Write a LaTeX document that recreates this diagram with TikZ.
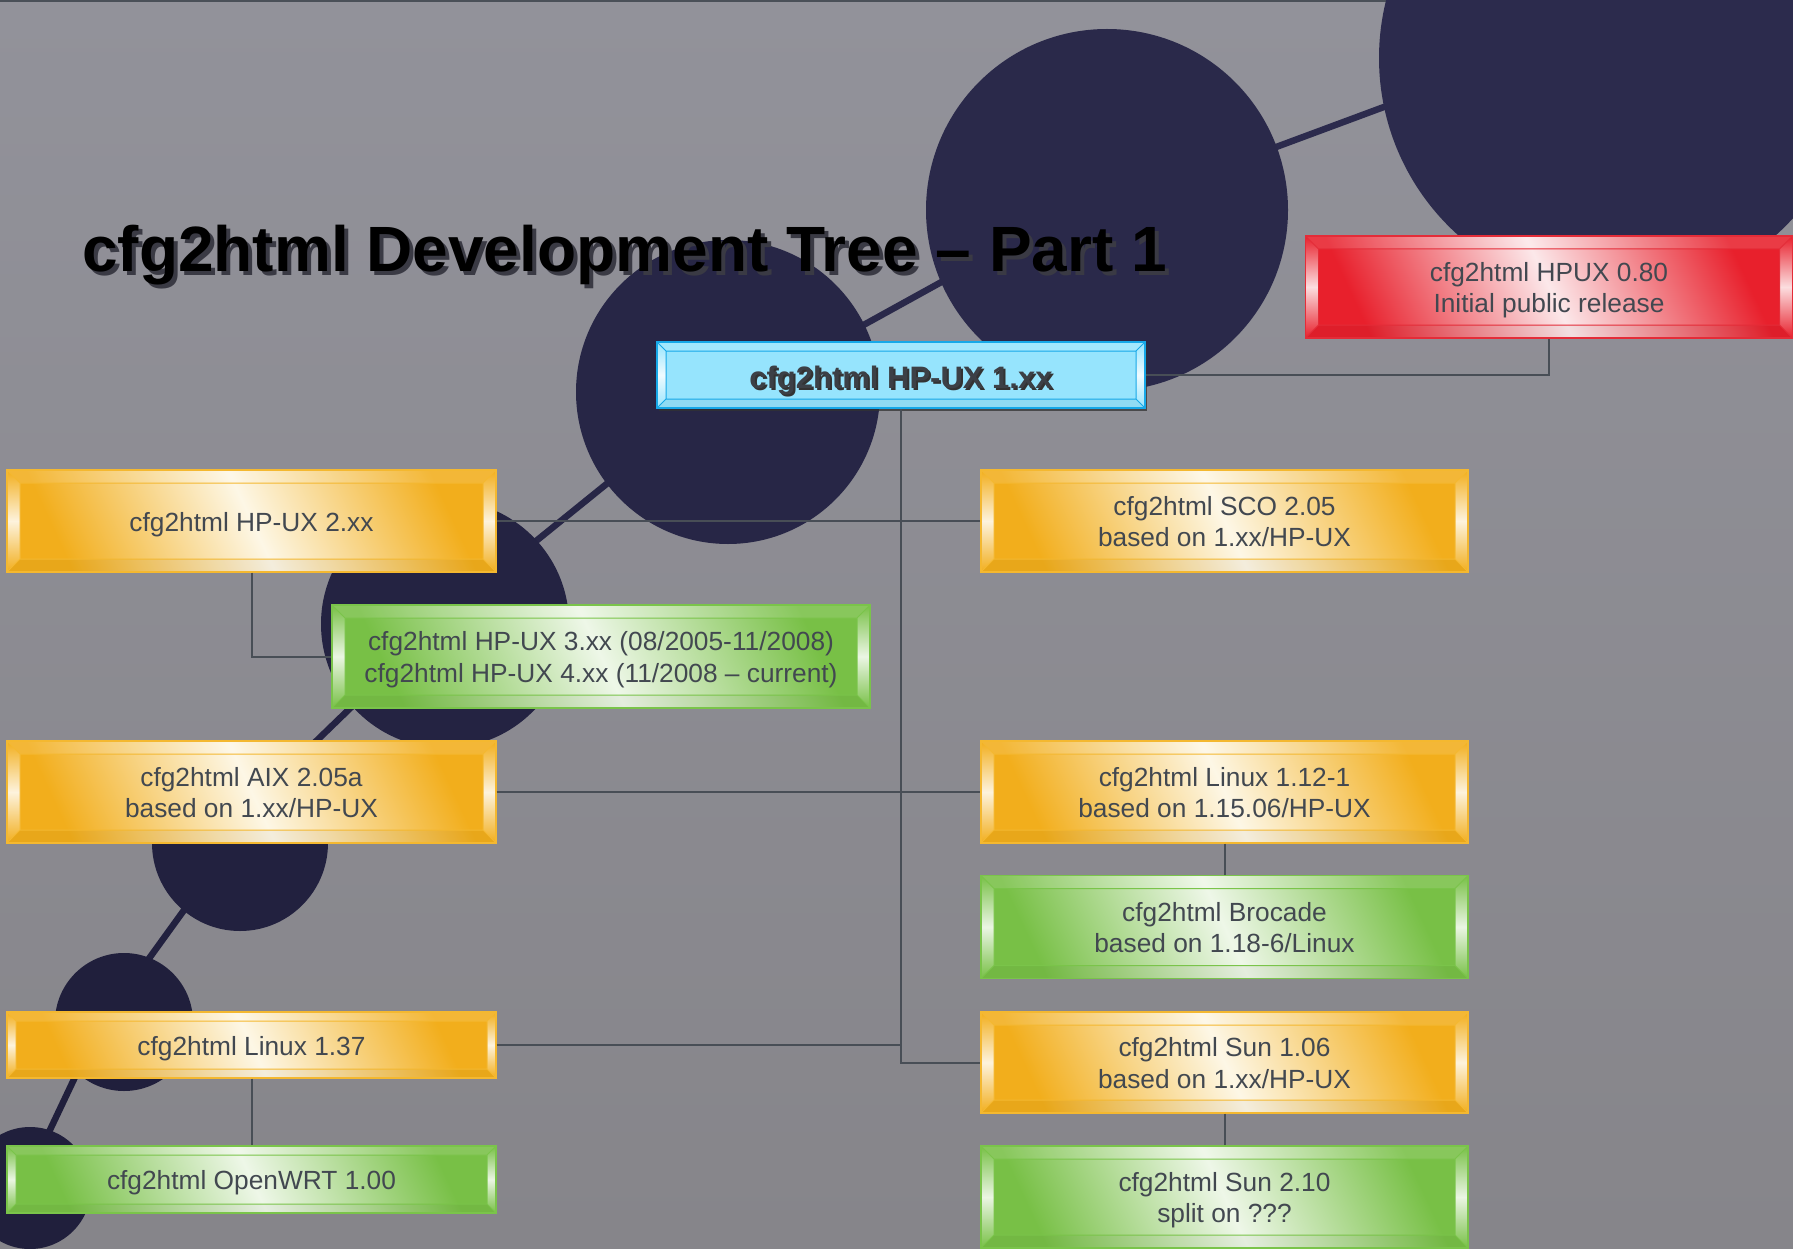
\documentclass[tikz,border=0pt]{standalone}
\usepackage{fontspec}
\newfontfamily\arial{Liberation Sans}
\usetikzlibrary{shadows}
\definecolor{bgT}{RGB}{146,146,154}
\definecolor{bgB}{RGB}{134,133,138}
\definecolor{topline}{RGB}{74,80,88}
\definecolor{navyA}{RGB}{44,43,77}
\definecolor{navyB}{RGB}{42,41,74}
\definecolor{navyC}{RGB}{39,38,70}
\definecolor{navyD}{RGB}{36,35,66}
\definecolor{navyE}{RGB}{34,33,63}
\definecolor{navyF}{RGB}{32,31,60}
\definecolor{oE}{RGB}{242,174,28}
\definecolor{oL}{RGB}{253,247,230}
\definecolor{oB}{RGB}{244,184,48}
\definecolor{gE}{RGB}{120,192,70}
\definecolor{gL}{RGB}{238,247,232}
\definecolor{gB}{RGB}{122,196,74}
\definecolor{rE}{RGB}{232,32,44}
\definecolor{rL}{RGB}{252,232,234}
\definecolor{rB}{RGB}{228,44,56}
\definecolor{bF}{RGB}{150,228,253}
\definecolor{bB}{RGB}{22,168,232}
\definecolor{txt}{RGB}{66,72,80}
\definecolor{conncol}{RGB}{72,78,86}
\definecolor{tshadow}{RGB}{58,58,68}
\newcommand{\st}{\rule{0pt}{27pt}}
\newcommand{\sd}{\rule[-7pt]{0pt}{0pt}}
\newcommand{\shtext}[3]{\rlap{\kern#1\raisebox{-#1}{\textcolor{#2}{#3}}}#3}
\tikzset{
  bevel/.style n args={3}{path picture={
    \coordinate (q1) at (path picture bounding box.north west);
    \coordinate (q2) at (path picture bounding box.north east);
    \coordinate (q3) at (path picture bounding box.south east);
    \coordinate (q4) at (path picture bounding box.south west);
    \coordinate (p1) at ([shift={(#1,-#1)}]q1);
    \coordinate (p2) at ([shift={(-#1,-#1)}]q2);
    \coordinate (p3) at ([shift={(-#1,#1)}]q3);
    \coordinate (p4) at ([shift={(#1,#1)}]q4);
    \shade[top color=#2, bottom color=#2, middle color=white!85!#2] (q1) -- (p1) -- (p4) -- (q4) -- cycle;
    \shade[top color=#2, bottom color=#2, middle color=white!85!#2] (q2) -- (p2) -- (p3) -- (q3) -- cycle;
    \fill[white, opacity=.12] (q1) -- (q2) -- (p2) -- (p1) -- cycle;
    \fill[black, opacity=.04] (q4) -- (q3) -- (p3) -- (p4) -- cycle;
    \draw[#3, line width=1] (p1) rectangle (p3) (q1) -- (p1) (q2) -- (p2) (q3) -- (p3) (q4) -- (p4);
  }},
  box/.style={rectangle, inner sep=0, align=center, text=txt,
    font=\arial\fontsize{26.3}{31.7}\selectfont, line width=1.2},
  obox/.style={box, draw=oB, left color=oE, right color=oE, middle color=oL,
    shading angle=115, bevel={#1}{oE}{oB}},
  obox/.default=13pt,
  gbox/.style={box, draw=gB, left color=gE, right color=gE, middle color=gL,
    shading angle=115, bevel={#1}{gE}{gB}},
  gbox/.default=13pt,
  rbox/.style={box, draw=rB, left color=rE, right color=rE, middle color=rL,
    shading angle=115, bevel={#1}{rE}{rB}},
  rbox/.default=13pt,
  bbox/.style={box, draw=bB, line width=2, fill=bF, bevel={9pt}{bF}{bB},
    drop shadow={shadow xshift=2pt, shadow yshift=-3pt, fill=black!80, opacity=.75},
    font=\arial\bfseries\fontsize{31}{36}\selectfont, text={rgb,255:red,60;green,64;blue,70}},
  chain/.style={line width=6.5, line cap=round},
  conn/.style={draw=conncol, line width=2},
}
\begin{document}
\begin{tikzpicture}[x=1pt,y=-1pt]
\useasboundingbox (0,0) rectangle (1793,1249);
% background
\shade[top color=bgT, bottom color=bgB] (0,0) rectangle (1793,1249);
\draw[topline, line width=4] (0,0) -- (1793,0);
% chain line between circles
\draw[chain, navyA] (1260,153) -- (1400,101);
\draw[chain, navyB] (840,338) -- (965,269);
\draw[chain, navyC] (520,554) -- (630,465);
\draw[chain, navyD] (370,689) -- (306,751);
\draw[chain, navyE] (200,888) -- (140,971);
\draw[chain, navyF] (85,1056) -- (40,1151);
% circles
\fill[navyA] (1617,58) circle[radius=238];
\fill[navyB] (1107,210) circle[radius=181];
\fill[navyC] (728,392) circle[radius=152];
\fill[navyD] (445,624) circle[radius=124];
\fill[navyE] (240,843) circle[radius=88];
\fill[navyF] (124,1022) circle[radius=69];
\fill[navyF] (30,1188) circle[radius=61];
% boxes
\node[bbox, minimum width=488, minimum height=66] (hp1) at (901,375)
  {\rule{0pt}{36pt}\shtext{2pt}{black!80}{cfg2html HP-UX 1.xx}};
\node[rbox, minimum width=487, minimum height=102] (red) at (1549,287)
  {\st cfg2html HPUX 0.80\\Initial public release\sd};
\node[obox, minimum width=489, minimum height=102] (hp2) at (251.5,521)
  {\st cfg2html HP-UX 2.xx\sd};
\node[obox, minimum width=487, minimum height=102] (sco) at (1224.5,521)
  {\st cfg2html SCO 2.05\\based on 1.xx/HP-UX\sd};
\node[gbox, minimum width=538, minimum height=103] (hp34) at (601,656.5)
  {\st cfg2html HP-UX 3.xx (08/2005-11/2008)\\cfg2html HP-UX 4.xx (11/2008 – current)\sd};
\node[obox, minimum width=489, minimum height=102] (aix) at (251.5,792)
  {\st cfg2html AIX 2.05a\\based on 1.xx/HP-UX\sd};
\node[obox, minimum width=487, minimum height=102] (lin112) at (1224.5,792)
  {\st cfg2html Linux 1.12-1\\based on 1.15.06/HP-UX\sd};
\node[gbox, minimum width=487, minimum height=103] (broc) at (1224.5,927)
  {\st cfg2html Brocade\\based on 1.18-6/Linux\sd};
\node[obox=9pt, minimum width=489, minimum height=66] (lin137) at (251.5,1045)
  {\st cfg2html Linux 1.37\sd};
\node[gbox=9pt, minimum width=489, minimum height=67] (wrt) at (251.5,1179.5)
  {\st cfg2html OpenWRT 1.00\sd};
\node[obox, minimum width=487, minimum height=101] (sun106) at (1224.5,1062.5)
  {\st cfg2html Sun 1.06\\based on 1.xx/HP-UX\sd};
\node[gbox, minimum width=487, minimum height=102] (sun210) at (1224.5,1197)
  {\st cfg2html Sun 2.10\\split on ???\sd};
% connectors
\draw[conn] (hp1.east) -- (hp1.east -| red.south) -- (red.south);
\draw[conn] (hp1.south) |- (sun106.west);
\draw[conn] (hp2.east) -- (sco.west);
\draw[conn] (aix.east) -- (lin112.west);
\draw[conn] (lin137.east) -- (lin137.east -| hp1.south);
\draw[conn] (hp2.south) |- (hp34.west);
\draw[conn] (lin137.south) -- (wrt.north);
\draw[conn] (lin112.south) -- (broc.north);
\draw[conn] (sun106.south) -- (sun210.north);
% title
\node[anchor=base west, inner sep=0, text=black,
  font=\arial\bfseries\fontsize{64}{70}\selectfont] (title) at (82,272)
  {\shtext{4pt}{tshadow}{cfg2html Development Tree – Part 1}};
\end{tikzpicture}
\end{document}
